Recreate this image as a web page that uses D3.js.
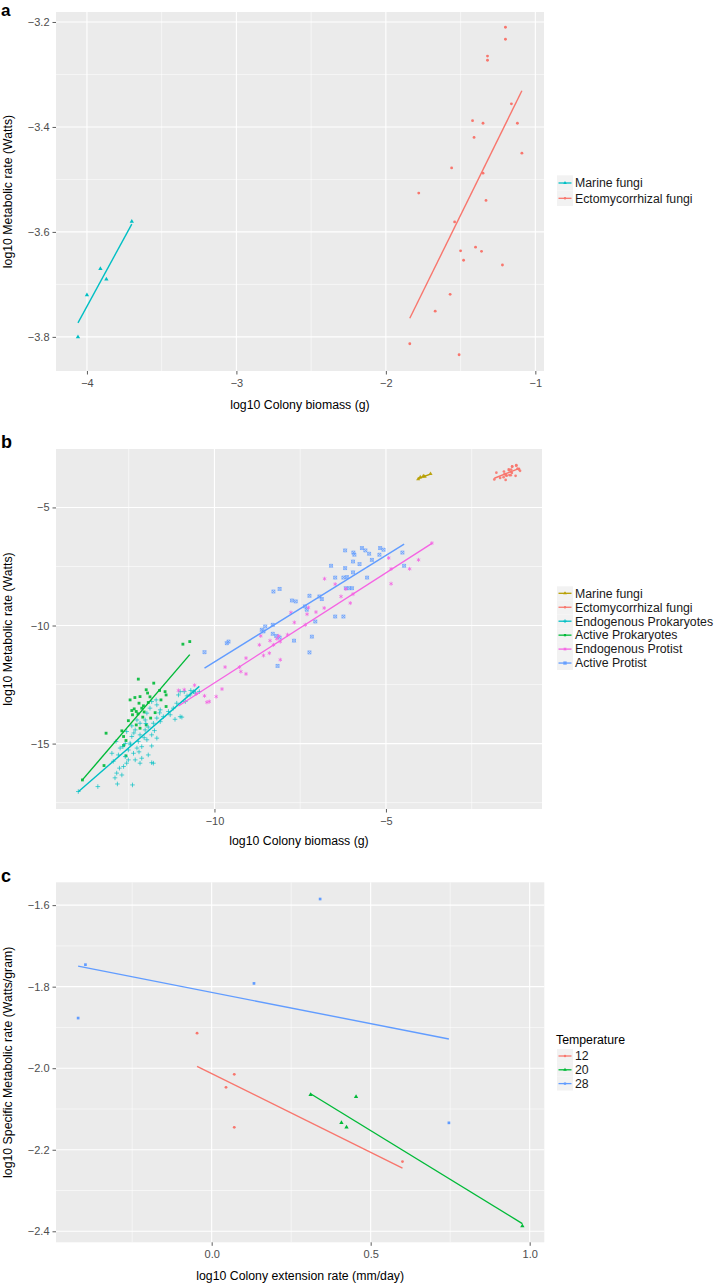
<!DOCTYPE html>
<html><head><meta charset="utf-8">
<script src="https://cdn.jsdelivr.net/npm/d3@7"></script>
<style>body{margin:0;background:#fff}svg{display:block}text{font-family:"Liberation Sans",Arial,Helvetica,sans-serif}</style>
</head><body><svg id="chart" width="715" height="1284"></svg>
<script>
// ---------------- DATA ----------------
// Panel a / b : fungi
const marineX = [-4.06, -4.00, -3.91, -3.87, -3.70];
const marineY = [-3.80, -3.72, -3.67, -3.69, -3.58];
const ectoX = [-1.20,-1.20,-1.32,-1.32,-1.16,-1.42,-1.35,-1.12,-1.41,-1.09,-1.56,-1.35,-1.78,-1.33,-1.54,-1.50,-1.40,-1.36,-1.48,-1.22,-1.57,-1.67,-1.84,-1.51];
const ectoY = [-3.210,-3.233,-3.265,-3.273,-3.356,-3.388,-3.393,-3.393,-3.420,-3.450,-3.478,-3.488,-3.526,-3.540,-3.581,-3.636,-3.629,-3.637,-3.654,-3.663,-3.719,-3.751,-3.813,-3.834];
// Panel b : prokaryotes and protists
const endoProkX = [-13.97,-13.40,-12.83,-12.39,-12.85,-12.70,-12.77,-12.65,-12.56,-11.78,-12.99,-12.80,-12.60,-12.36,-12.12,-11.93,-12.75,-12.51,-12.26,-12.12,-11.83,-12.46,-12.22,-11.97,-11.68,-12.41,-12.17,-11.83,-12.56,-12.31,-12.02,-11.93,-12.17,-11.78,-11.58,-12.02,-11.68,-11.49,-11.29,-11.15,-10.95,-11.34,-11.58,-11.88,-11.68,-11.20,-11.10,-10.85,-10.80,-11.05,-11.00,-10.88,-10.69,-10.71,-10.56,-11.70,-11.83,-11.97,-12.26,-12.41,-12.67,-12.87,-12.51,-12.31,-12.17,-10.61,-10.44,-11.00,-11.83,-12.90,-12.45,-12.05,-12.35,-11.75,-12.60,-12.20,-12.95,-12.00,-11.60];
const endoProkY = [-17.03,-16.82,-16.71,-16.75,-16.25,-16.33,-16.04,-15.97,-15.83,-15.83,-15.41,-15.48,-15.55,-15.41,-15.62,-15.48,-15.19,-15.27,-15.19,-15.13,-15.10,-14.98,-14.91,-14.84,-14.77,-14.70,-14.63,-14.63,-14.49,-14.42,-14.42,-14.30,-14.14,-14.14,-14.07,-14.00,-13.92,-13.86,-13.78,-13.97,-13.88,-13.64,-13.57,-13.50,-13.36,-13.50,-13.29,-13.22,-12.98,-12.94,-12.80,-12.80,-12.75,-12.94,-12.86,-13.15,-13.22,-13.71,-14.00,-14.25,-15.13,-14.91,-15.69,-15.69,-15.83,-12.80,-12.80,-13.86,-15.81,-16.45,-15.05,-14.75,-14.55,-14.45,-15.00,-15.35,-15.75,-14.15,-13.70];
const activeProkX = [-10.92,-10.72,-12.22,-11.77,-11.99,-11.60,-11.44,-11.41,-11.95,-12.17,-12.20,-11.93,-12.07,-12.12,-12.34,-12.28,-12.41,-12.39,-12.23,-11.73,-11.41,-12.09,-11.86,-12.51,-12.28,-11.99,-12.17,-12.70,-13.16,-12.65,-12.58,-12.65,-12.58,-13.22,-13.85,-12.32,-12.46,-11.88,-11.56,-12.05];
const activeProkY = [-10.79,-10.68,-12.27,-12.44,-12.72,-12.75,-12.80,-12.94,-12.86,-13.01,-13.29,-13.26,-13.40,-13.50,-13.53,-13.64,-13.60,-13.78,-13.74,-13.69,-13.43,-13.88,-13.92,-14.03,-14.21,-14.21,-14.35,-14.46,-14.56,-14.70,-14.87,-15.08,-15.52,-15.93,-16.54,-13.05,-13.15,-13.02,-13.15,-13.66];
const endoProtX = [-11.05,-10.88,-10.58,-10.53,-10.29,-10.22,-10.15,-9.95,-9.78,-9.69,-9.27,-9.23,-9.08,-9.08,-8.69,-8.57,-8.40,-8.38,-8.65,-8.28,-8.18,-8.08,-8.08,-8.13,-7.87,-7.77,-7.67,-7.35,-7.30,-7.26,-7.04,-6.79,-6.48,-6.17,-6.31,-6.04,-6.80,-5.96,-4.92,-4.85,-4.85,-4.31,-4.05,-3.66];
const endoProtY = [-12.75,-12.72,-12.53,-12.89,-12.98,-13.25,-13.22,-13.01,-12.69,-11.76,-11.76,-11.95,-12.05,-11.38,-10.82,-11.27,-11.17,-10.64,-10.44,-10.82,-10.56,-10.68,-11.45,-10.44,-10.39,-9.45,-9.87,-9.97,-9.52,-9.24,-9.43,-8.02,-8.25,-8.45,-8.77,-9.05,-9.26,-8.67,-7.14,-7.60,-8.23,-7.60,-7.22,-6.51];
const activeProtX = [-10.29,-9.64,-9.59,-8.62,-8.57,-8.52,-8.30,-8.30,-8.20,-8.10,-8.16,-8.28,-8.10,-7.74,-7.63,-7.68,-7.36,-7.31,-7.23,-7.06,-7.16,-7.23,-6.94,-6.87,-6.60,-6.48,-6.24,-6.14,-6.19,-5.96,-6.19,-5.95,-5.92,-5.96,-5.77,-5.70,-5.60,-5.49,-5.41,-5.55,-5.19,-5.17,-5.07,-6.17,-6.07,-5.99,-4.52,-4.47,-6.48,-6.24];
const activeProtY = [-11.13,-10.75,-10.68,-10.18,-10.25,-10.04,-9.97,-10.35,-10.44,-10.51,-11.71,-8.56,-8.45,-8.94,-8.98,-10.64,-9.19,-9.33,-8.74,-9.83,-10.47,-11.14,-8.77,-8.88,-7.47,-7.97,-7.97,-7.95,-7.57,-7.75,-6.82,-6.91,-7.00,-7.29,-7.40,-6.72,-6.82,-6.96,-7.22,-7.97,-7.00,-6.72,-6.79,-8.42,-8.42,-8.42,-6.91,-7.47,-9.62,-9.62];
// Panel c : temperature groups
const t12X = [-0.046, 0.071, 0.045, 0.071, 0.600];
const t12Y = [-1.914, -2.015, -2.047, -2.145, -2.229];
const t20X = [0.311, 0.454, 0.408, 0.424, 0.977];
const t20Y = [-2.065, -2.070, -2.134, -2.145, -2.387];
const t28X = [0.341, -0.397, -0.420, 0.133, 0.746];
const t28Y = [-1.585, -1.746, -1.877, -1.792, -2.134];

// Fitted lines (slope, intercept)
const fitMarine = [0.523, -1.650];
const fitEcto = [0.578, -2.701];
const fitEndoProk = [1.264, 0.618];
const fitActiveProk = [1.695, 6.938];
const fitEndoProt = [0.9324, -3.106];
const fitActiveProt = [0.9018, -2.524];
const fitT12 = [-0.387, -2.013];
const fitT20 = [-0.478, -1.914];
const fitT28 = [-0.1533, -1.814];

// Tick labels / legends
const ticksAx = [-4, -3, -2, -1], ticksAy = [-3.8, -3.6, -3.4, -3.2];
const ticksBx = [-10, -5], ticksBy = [-15, -10, -5];
const ticksCx = [0.0, 0.5, 1.0], ticksCy = [-2.4, -2.2, -2.0, -1.8, -1.6];
const legendA = ["Marine fungi", "Ectomycorrhizal fungi"];
const legendB = ["Marine fungi", "Ectomycorrhizal fungi", "Endogenous Prokaryotes", "Active Prokaryotes", "Endogenous Protist", "Active Protist"];
const legendC = ["12", "20", "28"];

// ---------------- DRAWING ----------------
const COL = {red:"#F8766D", olive:"#B79F00", green:"#00BA38", cyan:"#00BFC4", blue:"#619CFF", pink:"#F564E3"};
const svg = d3.select("#chart");
const symPlus = d3.symbolPlus || d3.symbolCross;
const symTimes = d3.symbolTimes || d3.symbolX || d3.symbolCross;
const symAst = d3.symbolAsterisk || d3.symbolStar;
const symSq2 = d3.symbolSquare2 || d3.symbolSquare;

function shape(g, kind, cx, cy, color, s, op) {
  const t = `translate(${cx},${cy})`;
  if (kind === "circle") {
    g.append("circle").attr("cx", cx).attr("cy", cy).attr("r", 1.5*s).attr("fill", color).attr("opacity", op);
  } else if (kind === "triangle") {
    g.append("path").attr("d", d3.symbol(d3.symbolTriangle, 9*s*s)()).attr("transform", t).attr("fill", color).attr("opacity", op);
  } else if (kind === "square") {
    g.append("path").attr("d", d3.symbol(d3.symbolSquare, 8*s*s)()).attr("transform", t).attr("fill", color).attr("opacity", op);
  } else if (kind === "plus") {
    g.append("path").attr("d", d3.symbol(symPlus, 8*s*s)()).attr("transform", t).attr("fill", "none").attr("stroke", color).attr("stroke-width", 0.9).attr("opacity", op);
  } else if (kind === "boxx") {
    g.append("path").attr("d", d3.symbol(symSq2, 11*s*s)()).attr("transform", t).attr("fill", "none").attr("stroke", color).attr("stroke-width", 0.8).attr("opacity", op);
    g.append("path").attr("d", d3.symbol(symTimes, 9*s*s)()).attr("transform", t).attr("fill", "none").attr("stroke", color).attr("stroke-width", 0.8).attr("opacity", op);
  } else if (kind === "asterisk") {
    g.append("path").attr("d", d3.symbol(symAst, 11*s*s)()).attr("transform", t).attr("fill", "none").attr("stroke", color).attr("stroke-width", 0.9).attr("opacity", op);
  }
}

function panel(cfg) {
  const g = svg.append("g");
  const x = d3.scaleLinear().domain(cfg.xDomain).range([cfg.left, cfg.right]);
  const y = d3.scaleLinear().domain(cfg.yDomain).range([cfg.bottom, cfg.top]);
  g.append("rect").attr("x", cfg.left).attr("y", cfg.top).attr("width", cfg.right - cfg.left).attr("height", cfg.bottom - cfg.top).attr("fill", "#EBEBEB");
  // grids
  cfg.xMinor.forEach(v => g.append("line").attr("x1", x(v)).attr("x2", x(v)).attr("y1", cfg.top).attr("y2", cfg.bottom).attr("stroke", "#fff").attr("stroke-width", 0.55));
  cfg.yMinor.forEach(v => g.append("line").attr("y1", y(v)).attr("y2", y(v)).attr("x1", cfg.left).attr("x2", cfg.right).attr("stroke", "#fff").attr("stroke-width", 0.55));
  cfg.xTicks.forEach(v => g.append("line").attr("x1", x(v)).attr("x2", x(v)).attr("y1", cfg.top).attr("y2", cfg.bottom).attr("stroke", "#fff").attr("stroke-width", 1.1));
  cfg.yTicks.forEach(v => g.append("line").attr("y1", y(v)).attr("y2", y(v)).attr("x1", cfg.left).attr("x2", cfg.right).attr("stroke", "#fff").attr("stroke-width", 1.1));
  // series
  cfg.series.forEach(s => {
    const pg = g.append("g");
    s.x.forEach((xv, i) => shape(pg, s.shape, x(xv), y(s.y[i]), s.color, s.size || 1, s.op || 1));
  });
  cfg.series.forEach(s => {
    const [x0, x1] = d3.extent(s.x);
    const f = v => s.fit[0] * v + s.fit[1];
    g.append("path").datum([x0, x1]).attr("d", d3.line().x(v => x(v)).y(v => y(f(v))))
      .attr("stroke", s.color).attr("stroke-width", 1.4).attr("fill", "none");
  });
  // axes
  const ax = g.append("g").attr("transform", `translate(0,${cfg.bottom})`)
    .call(d3.axisBottom(x).tickValues(cfg.xTicks).tickFormat(d3.format(cfg.xFmt)).tickSize(3.5).tickPadding(4.5));
  const ay = g.append("g").attr("transform", `translate(${cfg.left},0)`)
    .call(d3.axisLeft(y).tickValues(cfg.yTicks).tickFormat(d3.format(cfg.yFmt)).tickSize(3.5).tickPadding(3));
  [ax, ay].forEach(a => {
    a.select(".domain").remove();
    a.selectAll(".tick line").attr("stroke", "#333").attr("stroke-width", 0.8);
    a.selectAll(".tick text").attr("fill", "#4D4D4D").style("font-size", "11px").style("font-family", '"Liberation Sans",Arial,sans-serif');
  });
  // titles
  g.append("text").attr("x", (cfg.left + cfg.right) / 2).attr("y", cfg.xTitleY).attr("text-anchor", "middle")
    .style("font-size", "12.3px").attr("fill", "#000").text(cfg.xTitle);
  g.append("text").attr("transform", `translate(11.5,${(cfg.top + cfg.bottom) / 2}) rotate(-90)`).attr("text-anchor", "middle")
    .style("font-size", "12.3px").attr("fill", "#000").text(cfg.yTitle);
  g.append("text").attr("x", 1).attr("y", cfg.letterY).style("font-size", cfg.letterSize || "18px").style("font-weight", "bold").text(cfg.letter);
  // legend
  const L = cfg.legend;
  const lg = g.append("g");
  if (L.title) lg.append("text").attr("x", 556).attr("y", L.titleY).attr("dy", "0.35em").style("font-size", "12.3px").text(L.title);
  L.items.forEach((it, i) => {
    const cy = L.y0 + i * L.dy;
    lg.append("rect").attr("x", 557).attr("y", cy - L.dy / 2).attr("width", 16).attr("height", L.dy).attr("fill", "#F2F2F2");
    lg.append("line").attr("x1", 558.5).attr("x2", 571.5).attr("y1", cy).attr("y2", cy).attr("stroke", it.color).attr("stroke-width", 1.3);
    shape(lg, it.shape, 565, cy, it.color, 0.8, 1);
    lg.append("text").attr("x", 575).attr("y", cy).attr("dy", "0.35em").style("font-size", "12.3px").attr("fill", "#1a1a1a").text(it.label);
  });
}

// ---- panel a
panel({
  left: 56, right: 544, top: 12, bottom: 371,
  xDomain: [-4.207, -0.942], yDomain: [-3.865, -3.181],
  xTicks: ticksAx, yTicks: ticksAy, xMinor: [-3.5, -2.5, -1.5], yMinor: [-3.7, -3.5, -3.3],
  xFmt: "d", yFmt: ".1f",
  xTitle: "log10 Colony biomass (g)", yTitle: "log10 Metabolic rate (Watts)", xTitleY: 409,
  letter: "a", letterY: 15.5, letterSize: "17px",
  series: [
    {x: ectoX, y: ectoY, color: COL.red, shape: "circle", fit: fitEcto, size: 0.95},
    {x: marineX, y: marineY, color: COL.cyan, shape: "triangle", fit: fitMarine, size: 0.95}
  ],
  legend: {y0: 183, dy: 15.3, items: [
    {label: legendA[0], color: COL.cyan, shape: "triangle"},
    {label: legendA[1], color: COL.red, shape: "circle"}]}
});

// ---- panel b
panel({
  left: 56, right: 542, top: 449, bottom: 809,
  xDomain: [-14.62, -0.45], yDomain: [-17.77, -2.525],
  xTicks: ticksBx, yTicks: ticksBy, xMinor: [-12.5, -7.5, -2.5], yMinor: [-17.5, -12.5, -7.5],
  xFmt: "d", yFmt: "d",
  xTitle: "log10 Colony biomass (g)", yTitle: "log10 Metabolic rate (Watts)", xTitleY: 844.5,
  letter: "b", letterY: 448,
  series: [
    {x: ectoX, y: ectoY, color: COL.red, shape: "circle", fit: fitEcto, size: 0.9, op: 0.9},
    {x: marineX, y: marineY, color: COL.olive, shape: "triangle", fit: fitMarine, size: 0.9, op: 0.9},
    {x: activeProkX, y: activeProkY, color: COL.green, shape: "square", fit: fitActiveProk, size: 1, op: 0.9},
    {x: endoProkX, y: endoProkY, color: COL.cyan, shape: "plus", fit: fitEndoProk, size: 1, op: 0.75},
    {x: activeProtX, y: activeProtY, color: COL.blue, shape: "boxx", fit: fitActiveProt, size: 1, op: 0.85},
    {x: endoProtX, y: endoProtY, color: COL.pink, shape: "asterisk", fit: fitEndoProt, size: 1, op: 0.85}
  ],
  legend: {y0: 593.3, dy: 13.95, items: [
    {label: legendB[0], color: COL.olive, shape: "triangle"},
    {label: legendB[1], color: COL.red, shape: "circle"},
    {label: legendB[2], color: COL.cyan, shape: "plus"},
    {label: legendB[3], color: COL.green, shape: "square"},
    {label: legendB[4], color: COL.pink, shape: "asterisk"},
    {label: legendB[5], color: COL.blue, shape: "boxx"}]}
});

// ---- panel c
panel({
  left: 56, right: 544.3, top: 882.3, bottom: 1242.3,
  xDomain: [-0.4896, 1.046], yDomain: [-2.427, -1.544],
  xTicks: ticksCx, yTicks: ticksCy, xMinor: [-0.25, 0.25, 0.75], yMinor: [-2.3, -2.1, -1.9, -1.7],
  xFmt: ".1f", yFmt: ".1f",
  xTitle: "log10 Colony extension rate (mm/day)", yTitle: "log10 Specific Metabolic rate (Watts/gram)", xTitleY: 1280,
  letter: "c", letterY: 881.7,
  series: [
    {x: t12X, y: t12Y, color: COL.red, shape: "circle", fit: fitT12, size: 0.95},
    {x: t20X, y: t20Y, color: COL.green, shape: "triangle", fit: fitT20, size: 0.95},
    {x: t28X, y: t28Y, color: COL.blue, shape: "square", fit: fitT28, size: 0.95}
  ],
  legend: {title: "Temperature", titleY: 1040, y0: 1056, dy: 13.8, items: [
    {label: legendC[0], color: COL.red, shape: "circle"},
    {label: legendC[1], color: COL.green, shape: "triangle"},
    {label: legendC[2], color: COL.blue, shape: "square"}]}
});
</script>
</body></html>
